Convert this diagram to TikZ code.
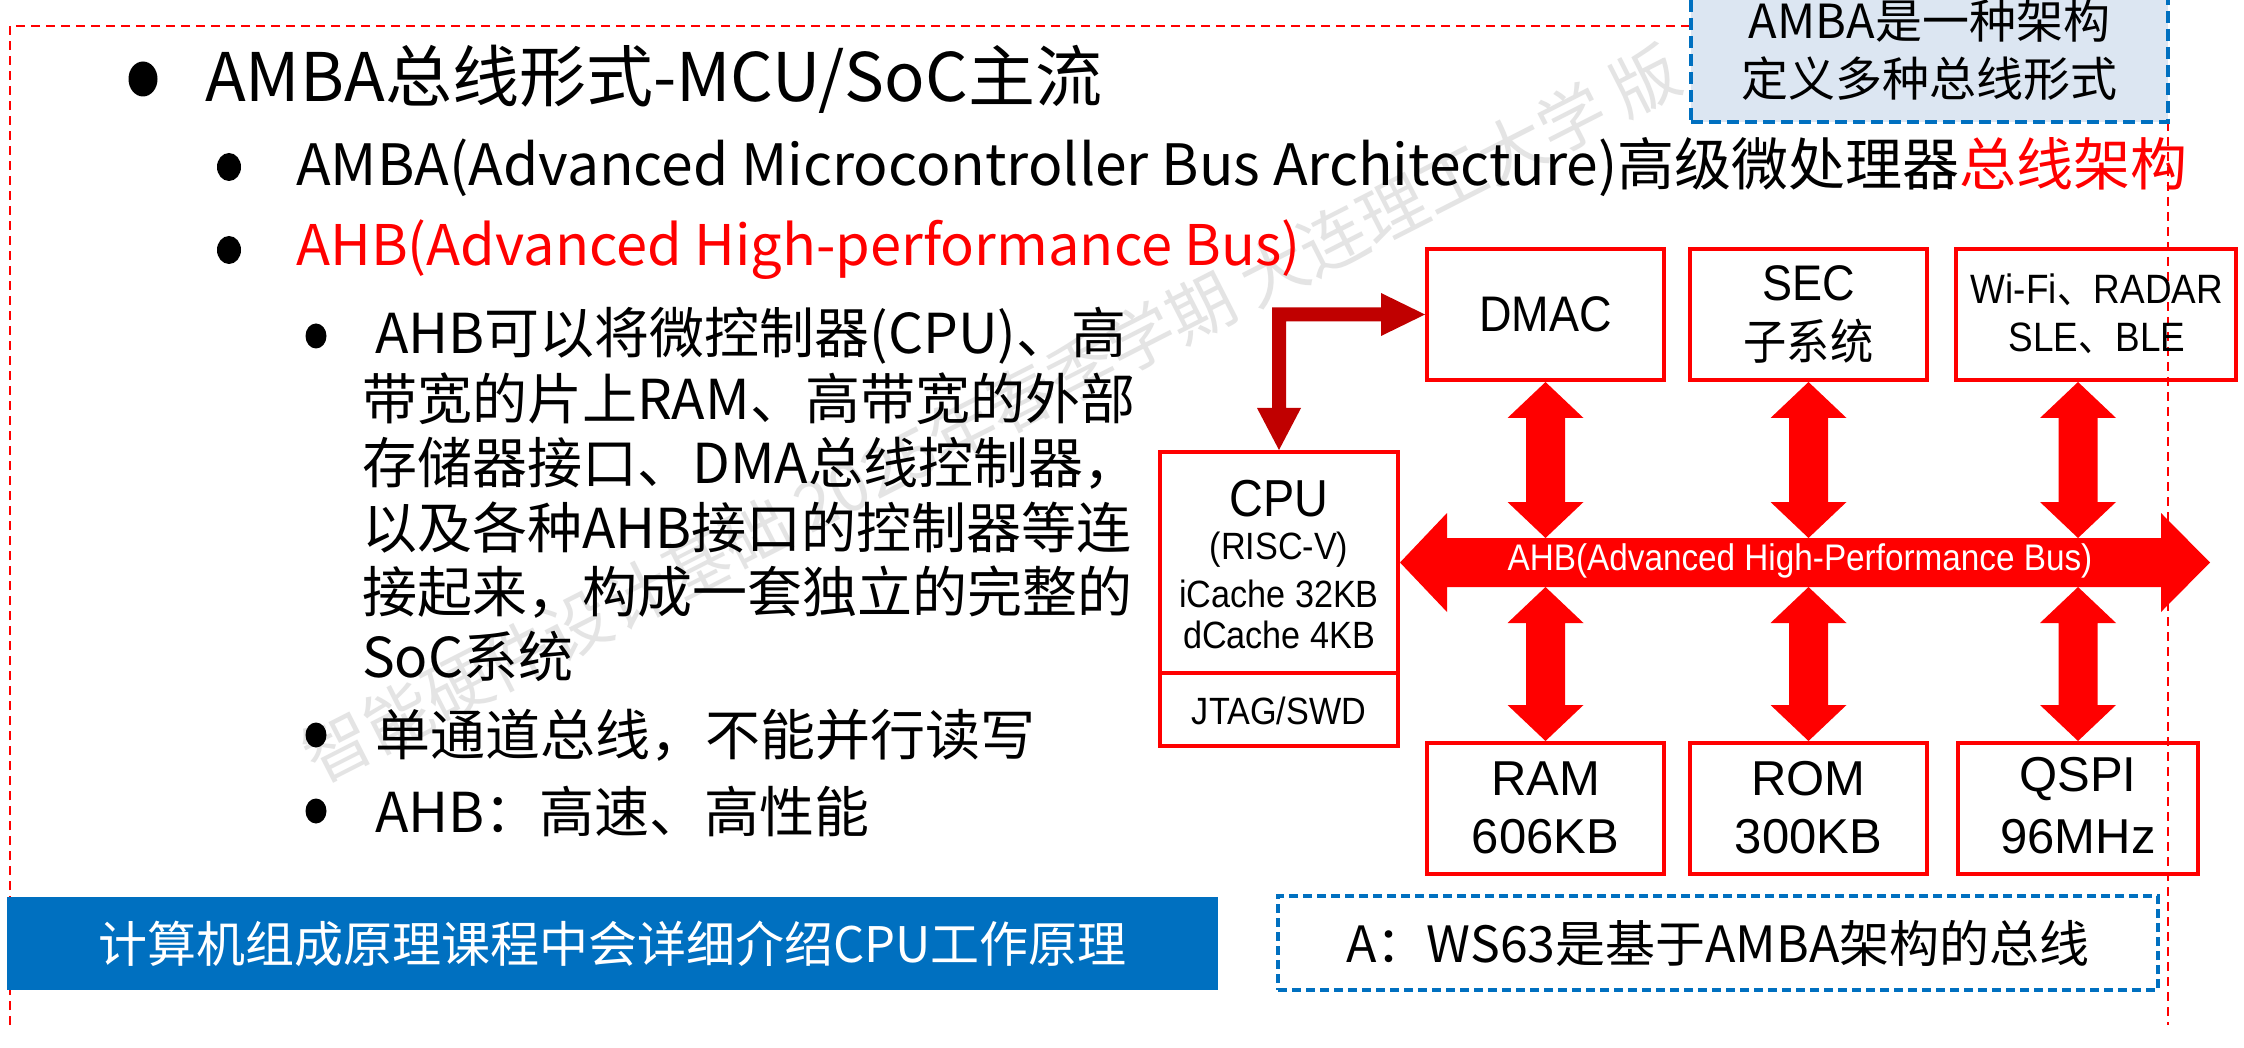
\documentclass[tikz,border=0pt]{standalone}
\usepackage{fontspec}
\setmainfont{Noto Sans CJK SC}
\newfontfamily\diag[FakeStretch=0.9]{Liberation Sans}
\newfontfamily\diagw{Liberation Sans}
\newfontfamily\diagcjk[FakeStretch=0.9]{Noto Sans CJK SC}
\usetikzlibrary{calc,shapes.geometric}
\definecolor{myred}{HTML}{FF0000}
\definecolor{dkred}{HTML}{C00000}
\definecolor{myblue}{HTML}{0070C0}
\definecolor{ltblue}{HTML}{DCE6F2}
\definecolor{wmgray}{HTML}{E4E4E4}
\newcommand{\vda}[2]{\fill[myred] let \p1=#1, \p2=#2 in
  (\x1,\y1) -- (\x1+38pt,\y1-36pt) -- (\x1+19.5pt,\y1-36pt) -- (\x1+19.5pt,\y2+36pt)
  -- (\x1+38pt,\y2+36pt) -- (\x1,\y2) -- (\x1-38pt,\y2+36pt) -- (\x1-19.5pt,\y2+36pt)
  -- (\x1-19.5pt,\y1-36pt) -- (\x1-38pt,\y1-36pt) -- cycle;}
\begin{document}
\begin{tikzpicture}[x=1pt,y=-1pt,
  lone/.style={anchor=west, inner sep=0pt, font=\fontsize{67}{70}\selectfont},
  ltwo/.style={anchor=west, inner sep=0pt, font=\fontsize{57}{60}\selectfont},
  lthree/.style={anchor=west, inner sep=0pt, font=\fontsize{55}{60}\selectfont},
  bul/.style={ellipse, fill=black, inner sep=0pt},
  redbox/.style={draw=myred, line width=4pt, minimum width=237pt, minimum height=131pt, inner sep=0pt},
  dbig/.style={inner sep=0pt, font=\diag\fontsize{50}{55}\selectfont},
  dmid/.style={inner sep=0pt, font=\diagw\fontsize{49}{52}\selectfont},
  dsmall/.style={inner sep=0pt, font=\diag\fontsize{38}{40}\selectfont},
  dwifi/.style={inner sep=0pt, font=\diag\fontsize{41}{45}\selectfont},
]
\useasboundingbox (0,0) rectangle (2244,1048);
\fill[white] (0,0) rectangle (2244,1048);

% watermark
\node[rotate=27, anchor=west, text=wmgray, inner sep=0pt, font=\fontsize{67}{67}\selectfont] (wmk) at (308,762) {智能硬件设计基础 2025年春季学期 大连理工大学 版};

% red dashed frame
\draw[myred, line width=2.5pt, dash pattern=on 9pt off 6pt] (10,1025) -- (10,26) -- (1691,26);
\draw[myred, line width=2.5pt, dash pattern=on 9pt off 6pt] (2168,122) -- (2168,1025);

% top-right note
\node[draw=myblue, fill=ltblue, line width=4pt, dash pattern=on 12pt off 6pt, minimum width=477pt, minimum height=160pt, inner sep=0pt] (amba) at (1929.5,42) {};
\node[inner sep=0pt, font=\fontsize{47}{50}\selectfont] (ambaA) at (1929.5,21) {AMBA是一种架构};
\node[inner sep=0pt, font=\fontsize{47}{50}\selectfont] (ambaB) at (1929.5,79) {定义多种总线形式};

% bullets and text
\node[bul, minimum width=29pt, minimum height=35pt] (b1) at (143,79) {};
\node[lone] (t1) at (205,79) {AMBA总线形式-MCU/SoC主流};
\node[bul, minimum width=24pt, minimum height=28pt] (b2) at (229,167) {};
\node[ltwo] (t2) at (296,167) {AMBA(Advanced Microcontroller Bus Architecture)高级微处理器\textcolor{myred}{总线架构}};
\node[bul, minimum width=24pt, minimum height=28pt] (b3) at (229,250) {};
\node[ltwo, text=myred, font=\fontsize{56}{60}\selectfont] (t3) at (296,250) {AHB(Advanced High-performance Bus)};

\node[bul, minimum width=21pt, minimum height=25pt] (b4) at (316,336) {};
\node[lthree] (s1) at (375,336) {AHB可以将微控制器(CPU)、高};
\node[lthree] (s2) at (362,399) {带宽的片上RAM、高带宽的外部};
\node[lthree] (s3) at (362,463) {存储器接口、DMA总线控制器，};
\node[lthree] (s4) at (362,528) {以及各种AHB接口的控制器等连};
\node[lthree] (s5) at (362,592) {接起来，构成一套独立的完整的};
\node[lthree] (s6) at (362,656) {SoC系统};
\node[bul, minimum width=21pt, minimum height=25pt] (b5) at (316,735) {};
\node[lthree] (s7) at (375,735) {单通道总线，不能并行读写};
\node[bul, minimum width=21pt, minimum height=25pt] (b6) at (316,811) {};
\node[lthree] (s8) at (375,811) {AHB：高速、高性能};

% diagram boxes
\node[redbox] (dmac) at (1545.5,314.5) {};
\node[dbig] (dmact) at (1545.5,314.5) {DMAC};
\node[redbox] (sec) at (1808.5,314.5) {};
\node[dbig] (secA) at (1808.5,283) {SEC};
\node[inner sep=0pt, font=\diagcjk\fontsize{48}{50}\selectfont] (secB) at (1808.5,341) {子系统};
\node[redbox, minimum width=280pt] (wifi) at (2096,314.5) {};
\node[dwifi] (wifiA) at (2097,290) {Wi-Fi{\diagcjk 、}RADAR};
\node[dwifi] (wifiB) at (2097,338) {SLE{\diagcjk 、}BLE};

\node[redbox] (ram) at (1545.5,808.5) {};
\node[dmid] (ramA) at (1545.5,779) {RAM};
\node[dmid] (ramB) at (1545.5,837) {606KB};
\node[redbox] (rom) at (1808.5,808.5) {};
\node[dmid] (romA) at (1808.5,779) {ROM};
\node[dmid] (romB) at (1808.5,837) {300KB};
\node[redbox, minimum width=240pt] (qspi) at (2078,808.5) {};
\node[dmid] (qspiA) at (2078,779) {QSPI};
\node[dmid] (qspiB) at (2078,837) {96MHz};

\node[redbox, minimum width=238pt, minimum height=221pt] (cpu) at (1279,562.5) {};
\node[redbox, minimum width=238pt, minimum height=73pt] (jtag) at (1279,709.5) {};
\node[inner sep=0pt, font=\diag\fontsize{52}{55}\selectfont] (cpuA) at (1279,499) {CPU};
\node[dsmall] (cpuB) at (1279,550) {(RISC-V)};
\node[dsmall] (cpuC) at (1279,594) {iCache 32KB};
\node[dsmall] (cpuD) at (1279,635) {dCache 4KB};
\node[dsmall] (jtagA) at (1279,711) {JTAG/SWD};

% bus
\coordinate (busL) at (cpu.east);
\coordinate (busR) at (2210,562.5);
\coordinate (busT) at (0,538);
\coordinate (busB) at (0,587);
\fill[myred] (busL) -- ++(47,-49.5) -- ++(0,25) -- ($(busR)+(-49,-24.5)$) -- ++(0,-25)
  -- (busR) -- ++(-49,49.5) -- ++(0,-25) -- ($(busL)+(47,24.5)$) -- ++(0,25) -- cycle;
\node[inner sep=0pt, text=white, font=\diag\fontsize{37}{40}\selectfont] (bust) at (1800,561) {AHB(Advanced High-Performance Bus)};

% vertical double arrows
\vda{(dmac.south)}{(dmac.south |- busT)}
\vda{(sec.south)}{(sec.south |- busT)}
\vda{(qspi.north |- wifi.south)}{(qspi.north |- busT)}
\vda{(ram.north |- busB)}{(ram.north)}
\vda{(rom.north |- busB)}{(rom.north)}
\vda{(qspi.north |- busB)}{(qspi.north)}

% elbow arrow CPU <-> DMAC
\fill[dkred] let \p1=(cpu.north), \p2=(dmac.west) in
  (\x1-7pt,\y2+7pt) -- (\x2-44pt,\y2+7pt) -- (\x2-44pt,\y2+21.5pt) -- (\x2,\y2)
  -- (\x2-44pt,\y2-21.5pt) -- (\x2-44pt,\y2-7pt) -- (\x1+7pt,\y2-7pt) -- (\x1+7pt,\y1+42pt)
  -- (\x1+22pt,\y1+42pt) -- (\x1,\y1) -- (\x1-22pt,\y1+42pt) -- (\x1-7pt,\y1+42pt) -- cycle;

% bottom notes
\node[fill=myblue, minimum width=1211pt, minimum height=93pt, inner sep=0pt, text=white, font=\fontsize{49}{52}\selectfont] (note1) at (612.5,943.5) {计算机组成原理课程中会详细介绍CPU工作原理};
\node[draw=myblue, line width=3.5pt, dash pattern=on 9pt off 5pt, minimum width=880pt, minimum height=94pt, inner sep=0pt, font=\fontsize{50}{52}\selectfont] (note2) at (1718,943) {A：WS63是基于AMBA架构的总线};
\end{tikzpicture}
\end{document}
